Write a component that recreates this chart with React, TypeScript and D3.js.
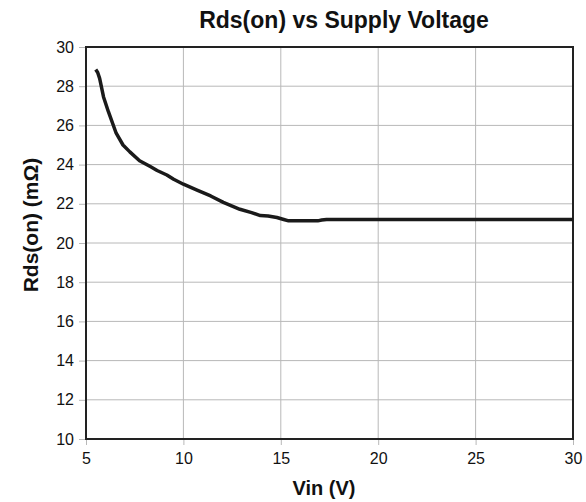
import React, { useEffect, useRef } from 'react';
import * as d3 from 'd3';

// values
const vin = [5.5, 5.6, 5.7, 5.9, 6.15, 6.55, 6.9, 7.25, 7.75, 8.3, 8.65, 9.15, 9.5, 10.0, 10.7, 11.4, 12.05, 12.9, 13.5, 13.95, 14.35, 14.8, 15.15, 15.4, 16.0, 16.9, 17.1, 17.35, 20, 25, 30];
const rds = [28.85, 28.7, 28.4, 27.45, 26.7, 25.6, 25.0, 24.65, 24.2, 23.9, 23.7, 23.47, 23.25, 23.0, 22.7, 22.4, 22.07, 21.72, 21.55, 21.4, 21.38, 21.3, 21.2, 21.13, 21.13, 21.13, 21.17, 21.2, 21.2, 21.2, 21.2];

const xTicks = [5, 10, 15, 20, 25, 30];
const yTicks = [10, 12, 14, 16, 18, 20, 22, 24, 26, 28, 30];

const title = 'Rds(on) vs Supply Voltage';
const xTitle = 'Vin (V)';
const yTitle = 'Rds(on) (mΩ)';

interface Pt {
  v: number;
  r: number;
}

const App: React.FC = () => {
  const svgRef = useRef<SVGSVGElement | null>(null);

  useEffect(() => {
    if (!svgRef.current) return;

    const width = 586;
    const height = 502;
    const marginLeft = 86;
    const marginRight = 13;
    const marginTop = 47;
    const marginBottom = 63;
    const font = 'Arial, "Liberation Sans", sans-serif';

    const svg = d3.select(svgRef.current)
      .attr('width', width)
      .attr('height', height)
      .attr('viewBox', `0 0 ${width} ${height}`)
      .style('font-family', font);

    svg.selectAll('*').remove();

    const x = d3.scaleLinear()
      .domain([5, 30])
      .range([marginLeft, width - marginRight]);

    const y = d3.scaleLinear()
      .domain([10, 30])
      .range([height - marginBottom, marginTop]);

    // grid
    svg.append('g')
      .selectAll('line')
      .data(xTicks.slice(1, -1))
      .join('line')
      .attr('x1', d => x(d)).attr('x2', d => x(d))
      .attr('y1', marginTop).attr('y2', height - marginBottom)
      .attr('stroke', '#b8b8b8');

    svg.append('g')
      .selectAll('line')
      .data(yTicks.slice(1, -1))
      .join('line')
      .attr('x1', marginLeft).attr('x2', width - marginRight)
      .attr('y1', d => y(d)).attr('y2', d => y(d))
      .attr('stroke', '#b8b8b8');

    // axes
    svg.append('g')
      .attr('transform', `translate(0,${height - marginBottom})`)
      .call(d3.axisBottom(x).tickValues(xTicks).tickSize(6).tickPadding(8))
      .call(g => g.select('.domain').remove())
      .call(g => g.selectAll('.tick line').attr('stroke', '#b8b8b8'))
      .call(g => g.selectAll('.tick text')
        .attr('font-size', 16).attr('font-family', font).attr('fill', '#111'));

    svg.append('g')
      .attr('transform', `translate(${marginLeft},0)`)
      .call(d3.axisLeft(y).tickValues(yTicks).tickSize(7).tickPadding(5))
      .call(g => g.select('.domain').remove())
      .call(g => g.selectAll('.tick line').attr('stroke', '#b8b8b8'))
      .call(g => g.selectAll('.tick text')
        .attr('font-size', 16).attr('font-family', font).attr('fill', '#111'));

    // frame
    svg.append('rect')
      .attr('x', marginLeft)
      .attr('y', marginTop)
      .attr('width', width - marginLeft - marginRight)
      .attr('height', height - marginTop - marginBottom)
      .attr('fill', 'none')
      .attr('stroke', '#222')
      .attr('stroke-width', 2);

    const data: Pt[] = vin.map((v, i) => ({ v, r: rds[i] }));

    const line = d3.line<Pt>()
      .x(d => x(d.v))
      .y(d => y(d.r));

    svg.append('path')
      .datum(data)
      .attr('fill', 'none')
      .attr('stroke', '#1a1a1a')
      .attr('stroke-width', 3.5)
      .attr('stroke-linejoin', 'round')
      .attr('d', line);

    // titles
    svg.append('text')
      .attr('x', 344)
      .attr('y', 28)
      .attr('text-anchor', 'middle')
      .attr('font-size', 23)
      .attr('font-weight', 'bold')
      .attr('fill', '#111')
      .text(title);

    svg.append('text')
      .attr('x', 324)
      .attr('y', 495)
      .attr('text-anchor', 'middle')
      .attr('font-size', 20)
      .attr('font-weight', 'bold')
      .attr('fill', '#111')
      .text(xTitle);

    svg.append('text')
      .attr('transform', `translate(38,225) rotate(-90)`)
      .attr('text-anchor', 'middle')
      .attr('font-size', 21)
      .attr('font-weight', 'bold')
      .attr('fill', '#111')
      .text(yTitle);
  }, []);

  return (
    <svg ref={svgRef} style={{ position: 'absolute', left: 0, top: 0 }}></svg>
  );
};

export default App;
